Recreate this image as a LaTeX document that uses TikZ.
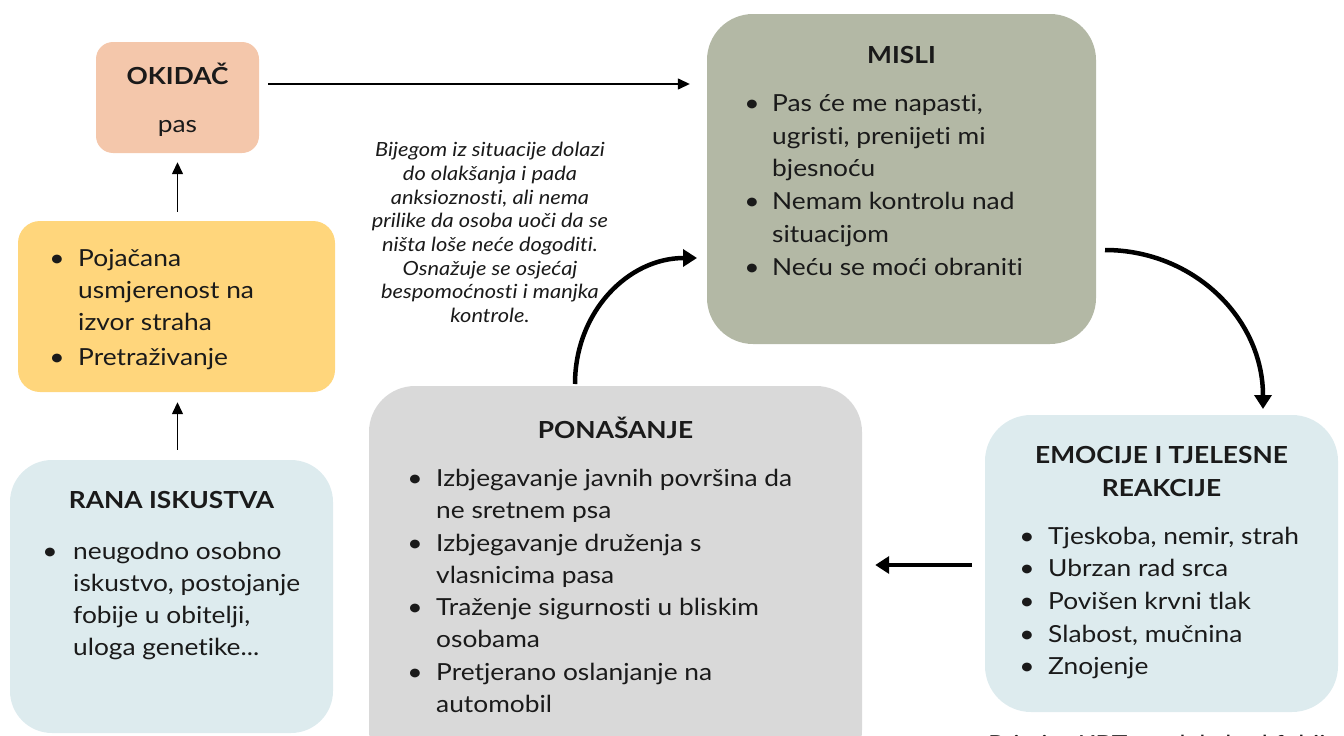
\documentclass[tikz,border=0pt]{standalone}
\usepackage{fontspec}
\setmainfont{Lato}[FakeStretch=1.12, Ligatures={NoCommon}]
\usetikzlibrary{arrows.meta}
\definecolor{peach}{HTML}{F4C7AB}
\definecolor{yel}{HTML}{FFD67C}
\definecolor{sage}{HTML}{B3B8A5}
\definecolor{lblue}{HTML}{DDEBEE}
\definecolor{lgrey}{HTML}{D9D9D9}
\definecolor{ink}{HTML}{1A1A1A}
\newcommand\mytridot{...}
\tikzset{
  box/.style={draw=none, inner sep=0pt},
  txt/.style={inner sep=0pt, anchor=base west, text=ink, font=\fontsize{23.5}{28}\selectfont},
  ttl/.style={inner sep=0pt, anchor=base, text=ink, font=\fontsize{23.5}{28}\selectfont\bfseries},
  bul/.style={inner sep=0pt, anchor=base, text=ink, font=\fontsize{23.5}{28}\selectfont},
  itl/.style={inner sep=0pt, anchor=base, text=ink, font=\fontsize{19.5}{22}\selectfont\itshape},
  thinarrow/.style={line width=1.4pt, -{Triangle[length=12pt,width=11pt]}},
  thickarrow/.style={line width=4.5pt, -{Triangle[length=14pt,width=17pt]}},
}
\begin{document}
\begin{tikzpicture}[x=1pt,y=-1pt]
\useasboundingbox (0,0) rectangle (1344,736);
\clip (0,0) rectangle (1344,736);
% boxes
\node[box, fill=peach, minimum width=163pt, minimum height=111pt, rounded corners=17pt] (okidac) at (177.5,97.5) {};
\node[box, fill=yel, minimum width=317pt, minimum height=171pt, rounded corners=22pt] (yellow) at (176.5,306.5) {};
\node[box, fill=lblue, minimum width=323pt, minimum height=273pt, rounded corners=42pt] (rana) at (171.5,596.5) {};
\node[box, fill=sage, minimum width=389pt, minimum height=330pt, rounded corners=46pt] (misli) at (901.5,179) {};
\node[box, fill=lblue, minimum width=353pt, minimum height=297pt, rounded corners=46pt] (emoc) at (1161.5,563.5) {};
\node[box, fill=lgrey, minimum width=493pt, minimum height=390pt, rounded corners=46pt] (pon) at (615.5,581) {};
% OKIDAC
\node[ttl] (okt) at (177.5,84) {OKIDAČ};
\node[bul] (okp) at (177.5,132) {pas};
% yellow
\foreach \t/\yy [count=\i] in {Pojačana/266, usmjerenost na/298, izvor straha/330, Pretraživanje/365}
  \node[txt] (y\i) at (78,\yy) {\t};
\node[bul] (yb1) at (57,266) {•};
\node[bul] (yb2) at (57,365) {•};
% rana
\node[ttl] (rt) at (171.5,508) {RANA ISKUSTVA};
\foreach \t/\yy [count=\i] in {neugodno osobno/559, {iskustvo, postojanje}/591, {fobije u obitelji,}/623, {uloga genetike\mytridot}/655}
  \node[txt] (r\i) at (73,\yy) {\t};
\node[bul] (rb1) at (50,559) {•};
% misli
\node[ttl] (mt) at (901.5,63) {MISLI};
\foreach \t/\yy [count=\i] in {{Pas će me napasti,}/111, {ugristi, prenijeti mi}/144, bjesnoću/176, Nemam kontrolu nad/209, situacijom/242, Neću se moći obraniti/275}
  \node[txt] (m\i) at (772,\yy) {\t};
\node[bul] (mb1) at (752,111) {•};
\node[bul] (mb2) at (752,209) {•};
\node[bul] (mb3) at (752,275) {•};
% emocije
\node[ttl] (et1) at (1161.5,463) {EMOCIJE I TJELESNE};
\node[ttl] (et2) at (1161.5,496) {REAKCIJE};
\foreach \t/\yy [count=\i] in {{Tjeskoba, nemir, strah}/544, Ubrzan rad srca/576, Povišen krvni tlak/609, {Slabost, mučnina}/642, Znojenje/674}
{ \node[txt] (e\i) at (1048,\yy) {\t};
  \node[bul] (eb\i) at (1027,\yy) {•}; }
% ponasanje
\node[ttl] (pt) at (615.5,438) {PONAŠANJE};
\foreach \t/\yy [count=\i] in {Izbjegavanje javnih površina da/486, ne sretnem psa/518, Izbjegavanje druženja s/551, vlasnicima pasa/583, Traženje sigurnosti u bliskim/615, osobama/647, Pretjerano oslanjanje na/680, automobil/712}
  \node[txt] (p\i) at (436,\yy) {\t};
\foreach \yy [count=\i] in {486,551,615,680}
  \node[bul] (pb\i) at (415,\yy) {•};
% italic note
\foreach \t/\yy [count=\i] in {Bijegom iz situacije dolazi/156, do olakšanja i pada/180, {anksioznosti, ali nema}/204, prilike da osoba uoči da se/227, ništa loše neće dogoditi./251, Osnažuje se osjećaj/275, bespomoćnosti i manjka/298, kontrole./322}
  \node[itl] (n\i) at (490,\yy) {\t};
% caption (cut off at the lower edge, as in the reference)
\node[txt] (cap) at (988,752) {Primjer KBT modela kod fobije};
% connectors
\draw[thinarrow] ([xshift=9pt,yshift=13.5pt]okidac.east) coordinate (a1) -- ([xshift=-17pt]a1 -| misli.west);
\draw[thinarrow] ([yshift=9pt]yellow.north -| okidac.south) -- ([yshift=-9pt]okidac.south);
\draw[thinarrow] ([yshift=10pt]rana.north -| okidac.south) -- ([yshift=-10pt]yellow.south -| okidac.south);
\coordinate (la) at (972,565);
\draw[thickarrow] (la) -- ([xshift=13pt]la -| pon.east);
\coordinate (c1s) at (575,384);
\coordinate (c1e) at (697,258);
\draw[thickarrow] (c1s) .. controls (575,312) and (628,258) .. (c1e);
\coordinate (c2s) at (1105,250);
\coordinate (c2e) at (1263,409);
\draw[thickarrow] (c2s) .. controls (1193,250) and (1263,318) .. (c2e);
\end{tikzpicture}
\end{document}
